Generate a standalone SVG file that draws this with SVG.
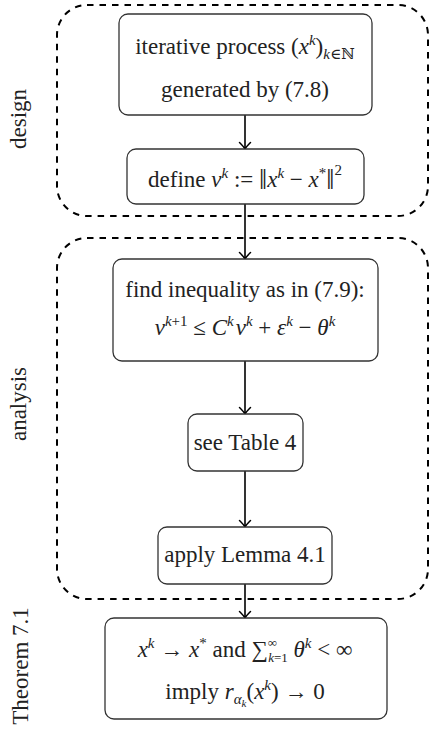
<svg xmlns="http://www.w3.org/2000/svg" width="430" height="731" viewBox="0 0 430 731">
<style>
.t{font-family:"Liberation Serif","DejaVu Serif",serif;font-size:23px;fill:#222;text-anchor:middle}
.i{font-style:italic}
.s{font-size:15px}
.sl{font-size:13px}
.ss{font-size:11px}
.node rect{fill:#fff;stroke:#333;stroke-width:1.3}
.grp{fill:none;stroke:#000;stroke-width:2;stroke-dasharray:6.5 6}
.conn line{stroke:#000;stroke-width:1.6;marker-end:url(#arr)}
</style>
<defs>
<marker id="arr" viewBox="-8 -7 10 14" markerWidth="10" markerHeight="14" refX="0" refY="0" orient="auto" markerUnits="userSpaceOnUse">
<path d="M -6.5 -5.5 Q -2 -1 0 0 Q -2 1 -6.5 5.5" fill="none" stroke="#000" stroke-width="1.5" stroke-linecap="round"/>
</marker>
</defs>
<g id="group-design">
<rect class="grp" x="57" y="5" width="371" height="211" rx="30" ry="30"/>
<text class="t" transform="translate(26,119) rotate(-90)">design</text>
</g>
<g id="group-analysis">
<rect class="grp" x="57" y="238" width="371" height="361" rx="30" ry="30"/>
<text class="t" transform="translate(26,404) rotate(-90)">analysis</text>
</g>
<g id="label-theorem">
<text class="t" transform="translate(28,666) rotate(-90)">Theorem 7.1</text>
</g>
<g id="connectors" class="conn">
<line x1="245" y1="115" x2="245" y2="149"/>
<line x1="245" y1="204" x2="245" y2="259"/>
<line x1="245" y1="361" x2="245" y2="414"/>
<line x1="245" y1="471" x2="245" y2="527"/>
<line x1="245" y1="584" x2="245" y2="618"/>
</g>
<g id="n1" class="node">
<rect x="119" y="14" width="253" height="101" rx="9"/>
<text class="t" x="245" y="54">iterative process (<tspan class="i">x</tspan><tspan class="s i" dy="-9">k</tspan><tspan dy="9">)</tspan><tspan class="s" dy="5"><tspan class="i">k</tspan>∈ℕ</tspan></text>
<text class="t" x="245" y="97">generated by (7.8)</text>
</g>
<g id="n2" class="node">
<rect x="127" y="149" width="237" height="55" rx="9"/>
<text class="t" x="245" y="187">define <tspan class="i">v</tspan><tspan class="s i" dy="-9">k</tspan><tspan dy="9"> := </tspan><tspan font-size="29" dy="2">‖</tspan><tspan class="i" dy="-2">x</tspan><tspan class="s i" dy="-9">k</tspan><tspan dy="9"> − </tspan><tspan class="i">x</tspan><tspan class="s" dy="-9">*</tspan><tspan font-size="29" dy="11">‖</tspan><tspan class="s" dy="-14">2</tspan></text>
</g>
<g id="n3" class="node">
<rect x="113" y="259" width="265" height="102" rx="9"/>
<text class="t" x="245" y="297">find inequality as in (7.9):</text>
<text class="t" x="245" y="335"><tspan class="i">v</tspan><tspan class="s" dy="-9"><tspan class="i">k</tspan>+1</tspan><tspan dy="9"> ≤ </tspan><tspan class="i">C</tspan><tspan class="s i" dy="-9">k</tspan><tspan class="i" dx="2" dy="9">v</tspan><tspan class="s i" dy="-9">k</tspan><tspan dy="9"> + </tspan><tspan class="i">ε</tspan><tspan class="s i" dy="-9">k</tspan><tspan dy="9"> − </tspan><tspan class="i">θ</tspan><tspan class="s i" dy="-9">k</tspan></text>
</g>
<g id="n4" class="node">
<rect x="188" y="414" width="115" height="57" rx="9"/>
<text class="t" x="245" y="450">see Table 4</text>
</g>
<g id="n5" class="node">
<rect x="158" y="527" width="174" height="57" rx="9"/>
<text class="t" x="245" y="562">apply Lemma 4.1</text>
</g>
<g id="n6" class="node">
<rect x="105" y="618" width="282" height="101" rx="9"/>
<text class="t" x="245" y="657"><tspan class="i">x</tspan><tspan class="s i" dy="-9">k</tspan><tspan dy="9"> → </tspan><tspan class="i">x</tspan><tspan class="s" dy="-9">*</tspan><tspan dy="9"> and ∑</tspan><tspan class="sl" dy="-10">∞</tspan><tspan class="sl" dx="-9" dy="15"><tspan class="i">k</tspan>=1</tspan><tspan dy="-5"> </tspan><tspan class="i">θ</tspan><tspan class="s i" dy="-9">k</tspan><tspan dy="9"> &lt; ∞</tspan></text>
<text class="t" x="245" y="699">imply <tspan class="i">r</tspan><tspan class="s i" dy="5">α</tspan><tspan class="ss i" dy="3">k</tspan><tspan dy="-8">(</tspan><tspan class="i">x</tspan><tspan class="s i" dy="-9">k</tspan><tspan dy="9">) → 0</tspan></text>
</g>
</svg>
